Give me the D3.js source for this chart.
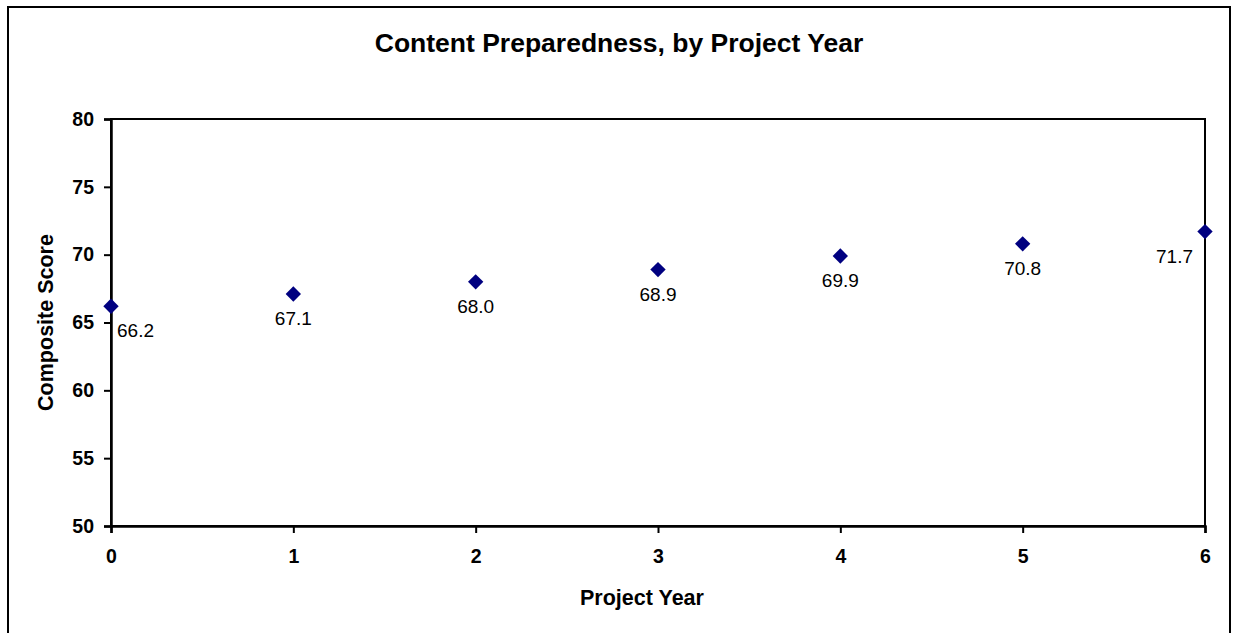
<!DOCTYPE html>
<html>
<head>
<meta charset="utf-8">
<script src="https://cdn.jsdelivr.net/npm/d3@7"></script>
<style>
html,body{margin:0;padding:0;background:#fff;}
svg{display:block;font-family:Arial,"Liberation Sans",sans-serif;}
</style>
</head>
<body>
<svg id="chart" width="1235" height="633"></svg>
<script>
const years = [0, 1, 2, 3, 4, 5, 6];
const scores = [66.2, 67.1, 68.0, 68.9, 69.9, 70.8, 71.7];
const labels = ["66.2", "67.1", "68.0", "68.9", "69.9", "70.8", "71.7"];
const yTicks = [50, 55, 60, 65, 70, 75, 80];
const xTicks = [0, 1, 2, 3, 4, 5, 6];

const svg = d3.select("#chart");
const plot = {left: 111, top: 119, right: 1205, bottom: 526};

// outer frame
svg.append("rect").attr("x", 8).attr("y", 7).attr("width", 1222).attr("height", 640)
  .attr("fill", "none").attr("stroke", "#000").attr("stroke-width", 2);

const x = d3.scaleLinear().domain([0, 6]).range([plot.left, plot.right]);
const y = d3.scaleLinear().domain([50, 80]).range([plot.bottom, plot.top]);

// plot area border
svg.append("rect").attr("x", plot.left).attr("y", plot.top)
  .attr("width", plot.right - plot.left).attr("height", plot.bottom - plot.top)
  .attr("fill", "none").attr("stroke", "#000").attr("stroke-width", 2);

// y axis
const yAxis = svg.append("g").attr("transform", `translate(${plot.left},0)`)
  .call(d3.axisLeft(y).tickValues(yTicks).tickSize(7).tickPadding(10).tickFormat(d3.format("d")));
yAxis.select(".domain").attr("stroke-width", 2.5);
yAxis.selectAll(".tick line").attr("stroke-width", 2);
yAxis.selectAll(".tick text").attr("font-size", 19.5).attr("font-weight", "bold")
  .attr("font-family", "Arial, 'Liberation Sans', sans-serif").attr("fill", "#000");

// x axis
const xAxis = svg.append("g").attr("transform", `translate(0,${plot.bottom})`)
  .call(d3.axisBottom(x).tickValues(xTicks).tickSize(7).tickPadding(16).tickFormat(d3.format("d")));
xAxis.select(".domain").attr("stroke-width", 2.5);
xAxis.selectAll(".tick line").attr("stroke-width", 2);
xAxis.selectAll(".tick text").attr("font-size", 19.5).attr("font-weight", "bold")
  .attr("font-family", "Arial, 'Liberation Sans', sans-serif").attr("fill", "#000");

// title
svg.append("text").attr("x", 619).attr("y", 52).attr("text-anchor", "middle")
  .attr("font-size", 26.5).attr("font-weight", "bold").text("Content Preparedness, by Project Year");

// axis titles
svg.append("text").attr("x", 642).attr("y", 605).attr("text-anchor", "middle")
  .attr("font-size", 21.5).attr("font-weight", "bold").text("Project Year");
svg.append("text").attr("transform", `translate(53,${(plot.top + plot.bottom) / 2}) rotate(-90)`)
  .attr("text-anchor", "middle").attr("font-size", 21.5).attr("font-weight", "bold").text("Composite Score");

// markers
const diamond = d3.symbol().type(d3.symbolDiamond2).size(150);
svg.append("g").selectAll("path").data(years).join("path")
  .attr("d", diamond)
  .attr("transform", (d, i) => `translate(${x(d)},${y(scores[i])})`)
  .attr("fill", "#000080");

// data labels
svg.append("g").selectAll("text").data(years).join("text")
  .attr("x", (d, i) => i === 0 ? x(d) + 6 : (i === years.length - 1 ? x(d) - 12 : x(d)))
  .attr("y", (d, i) => y(scores[i]) + 31)
  .attr("text-anchor", (d, i) => i === 0 ? "start" : (i === years.length - 1 ? "end" : "middle"))
  .attr("font-size", 19).attr("fill", "#000")
  .text((d, i) => labels[i]);
</script>
</body>
</html>
